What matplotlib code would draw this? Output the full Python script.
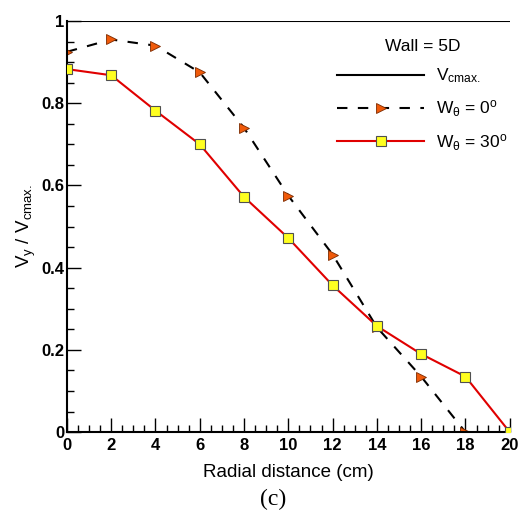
import numpy as np
import matplotlib
matplotlib.use("Agg")
import matplotlib.pyplot as plt
from matplotlib.ticker import MultipleLocator

plt.rcParams['font.family'] = ['Liberation Sans', 'DejaVu Sans']
plt.rcParams['mathtext.fontset'] = 'custom'
plt.rcParams['mathtext.rm'] = 'Liberation Sans'
plt.rcParams['mathtext.it'] = 'Liberation Sans'
plt.rcParams['mathtext.bf'] = 'Liberation Sans:bold'

# data
x_w0 = [0, 2, 4, 6, 8, 10, 12, 14, 16, 18]
y_w0 = [0.925, 0.955, 0.940, 0.875, 0.740, 0.575, 0.432, 0.255, 0.135, 0.0]
x_w30 = [0, 2, 4, 6, 8, 10, 12, 14, 16, 18, 20]
y_w30 = [0.883, 0.868, 0.782, 0.700, 0.572, 0.472, 0.357, 0.258, 0.190, 0.135, 0.0]
x_vmax = [0, 20]
y_vmax = [1.0, 1.0]

fig = plt.figure(figsize=(5.31, 5.12), dpi=100)
ax = fig.add_axes([0.126, 0.156, 0.834, 0.803])

ax.plot(x_vmax, y_vmax, color='black', lw=1.5, label=r'V$_{\mathregular{cmax.}}$')
ax.plot(x_w0, y_w0, color='black', lw=1.5, ls=(0, (5, 5)), marker='>',
        ms=7.5, mfc='#f05a0a', mec='#7a2a00', mew=0.6, label=r'W$_\theta$ = 0$^\mathregular{o}$')
ax.plot(x_w30, y_w30, color='#e00000', lw=1.5, marker='s',
        ms=7, mfc='#ffff20', mec='#505050', mew=0.8, label=r'W$_\theta$ = 30$^\mathregular{o}$', zorder=3)

ax.set_xlim(0, 20)
ax.set_ylim(0, 1)
ax.spines['top'].set_visible(False)
ax.spines['right'].set_visible(False)
ax.spines['left'].set_linewidth(1.5)
ax.spines['bottom'].set_linewidth(1.5)

ax.xaxis.set_major_locator(MultipleLocator(2))
ax.xaxis.set_minor_locator(MultipleLocator(0.5))
ax.yaxis.set_minor_locator(MultipleLocator(0.05))
ax.tick_params(which='major', direction='in', length=10, width=1.0, labelsize=12, pad=2)
ax.tick_params(axis='x', which='major', pad=4)
ax.tick_params(which='minor', direction='in', length=5, width=1.0)
ax.set_yticks([0, 0.2, 0.4, 0.6, 0.8, 1.0])
ax.set_yticklabels(['0', '0.2', '0.4', '0.6', '0.8', '1'])
for lab in ax.get_xticklabels() + ax.get_yticklabels():
    lab.set_fontweight('bold')

ax.set_xlabel('Radial distance (cm)', fontsize=13.5, labelpad=8)
ax.set_ylabel(r'V$_\mathregular{y}$ / V$_{\mathregular{cmax.}}$', fontsize=13.5, labelpad=2)

leg = ax.legend(loc='upper right', bbox_to_anchor=(1.03, 0.995), frameon=False,
                title='Wall = 5D', fontsize=12.5, title_fontsize=12.5,
                handlelength=5.0, handletextpad=0.7, labelspacing=0.75)

fig.text(0.515, 0.004, '(c)', fontsize=17, family='Liberation Serif', ha='center', va='bottom')

plt.savefig('out.png', dpi=100)
